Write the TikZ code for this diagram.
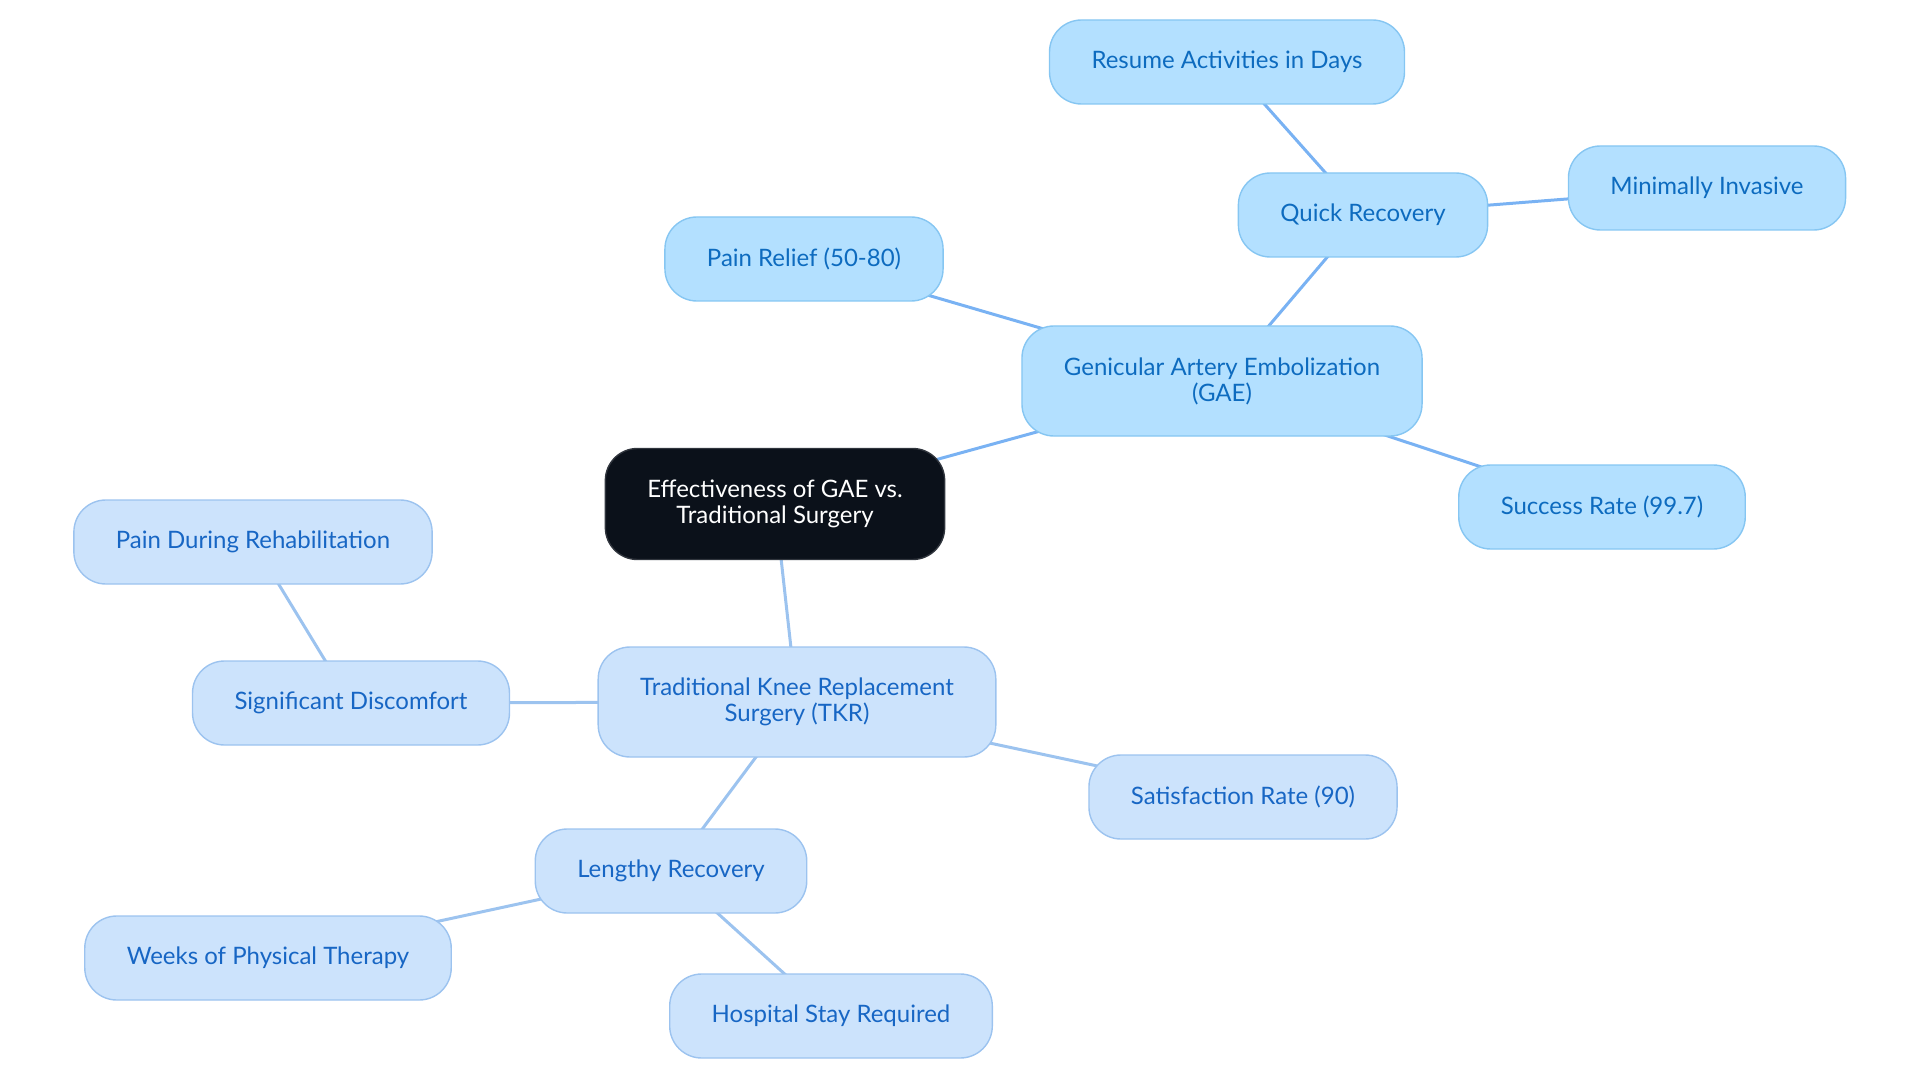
\documentclass[tikz,border=0pt]{standalone}
\usepackage{fontspec}
\setmainfont{Lato}
\usetikzlibrary{backgrounds}
\definecolor{rootfill}{HTML}{0B111A}
\definecolor{rootline}{HTML}{30353D}
\definecolor{gaefill}{HTML}{B3E0FF}
\definecolor{gaeline}{HTML}{86C6F2}
\definecolor{gaetext}{HTML}{0D6BBF}
\definecolor{tkrfill}{HTML}{CCE3FC}
\definecolor{tkrline}{HTML}{9CC3EF}
\definecolor{tkrtext}{HTML}{1766C4}
\tikzset{
  mapnode/.style={rounded corners=32pt, line width=1.4pt, align=center,
    inner xsep=42pt, inner ysep=0pt, minimum height=84pt,
    font=\fontsize{24}{26}\selectfont},
  rootnode/.style={mapnode, fill=rootfill, draw=rootline, text=white, minimum height=111pt},
  gaenode/.style={mapnode, fill=gaefill, draw=gaeline, text=gaetext},
  tkrnode/.style={mapnode, fill=tkrfill, draw=tkrline, text=tkrtext},
  gaelink/.style={draw=gaeline!90!blue, line width=3pt},
  tkrlink/.style={draw=tkrline, line width=3pt}
}
\begin{document}
\begin{tikzpicture}[x=1pt,y=-1pt]
  \useasboundingbox (0,0) rectangle (1920,1083);

  % centre
  \node[rootnode] (root) at (775,504) {Effectiveness of GAE vs.\\Traditional Surgery};

  % GAE branch
  \node[gaenode, minimum height=110pt] (gae) at (1222,381) {Genicular Artery Embolization\\(GAE)};
  \node[gaenode] (relief) at (804,259) {Pain Relief (50-80)};
  \node[gaenode] (quick) at (1363,215) {Quick Recovery};
  \node[gaenode] (resume) at (1227,62) {Resume Activities in Days};
  \node[gaenode] (invasive) at (1707,188) {Minimally Invasive};
  \node[gaenode] (success) at (1602,507) {Success Rate (99.7)};

  % TKR branch
  \node[tkrnode, minimum height=110pt] (tkr) at (797,702) {Traditional Knee Replacement\\Surgery (TKR)};
  \node[tkrnode] (discomfort) at (351,703) {Significant Discomfort};
  \node[tkrnode] (rehab) at (253,542) {Pain During Rehabilitation};
  \node[tkrnode] (satisfaction) at (1243,797) {Satisfaction Rate (90)};
  \node[tkrnode] (lengthy) at (671,871) {Lengthy Recovery};
  \node[tkrnode] (weeks) at (268,958) {Weeks of Physical Therapy};
  \node[tkrnode] (hospital) at (831,1016) {Hospital Stay Required};

  \begin{scope}[on background layer]
    \draw[gaelink] (root.center) -- (gae.center);
    \draw[gaelink] (gae.center) -- (relief.center);
    \draw[gaelink] (gae.center) -- (quick.center);
    \draw[gaelink] (quick.center) -- (resume.center);
    \draw[gaelink] (quick.center) -- (invasive.center);
    \draw[gaelink] (gae.center) -- (success.center);

    \draw[tkrlink] (root.center) -- (tkr.center);
    \draw[tkrlink] (tkr.center) -- (discomfort.center);
    \draw[tkrlink] (discomfort.center) -- (rehab.center);
    \draw[tkrlink] (tkr.center) -- (satisfaction.center);
    \draw[tkrlink] (tkr.center) -- (lengthy.center);
    \draw[tkrlink] (lengthy.center) -- (weeks.center);
    \draw[tkrlink] (lengthy.center) -- (hospital.center);
  \end{scope}
\end{tikzpicture}
\end{document}
